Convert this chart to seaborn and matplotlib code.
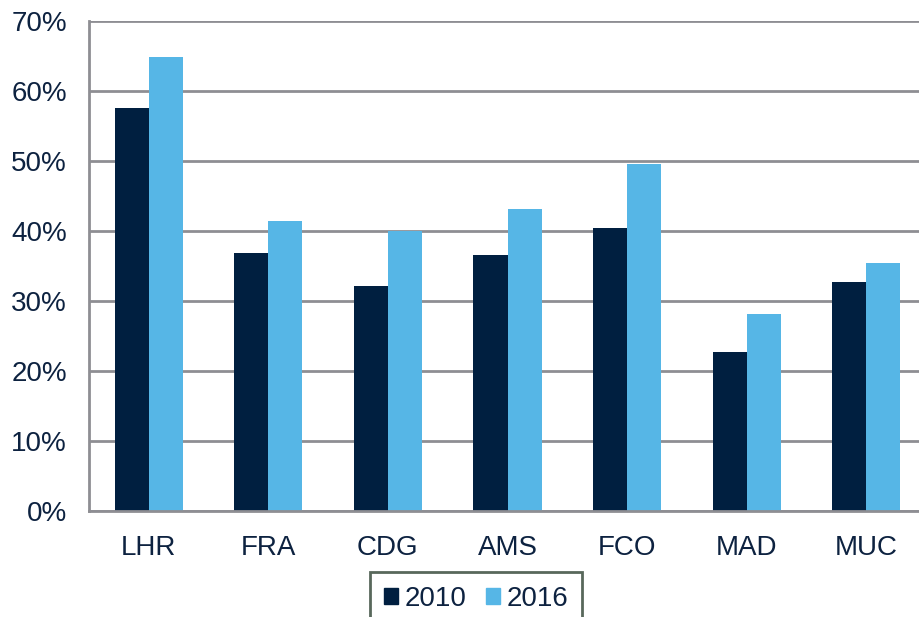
import matplotlib
matplotlib.use("Agg")
import matplotlib.pyplot as plt
import numpy as np
import pandas as pd
import seaborn as sns
from matplotlib.ticker import FuncFormatter, FixedLocator

airports = ["LHR", "FRA", "CDG", "AMS", "FCO", "MAD", "MUC"]
share_2010 = [57.6, 36.8, 32.1, 36.6, 40.5, 22.7, 32.7]
share_2016 = [64.8, 41.5, 40.0, 43.1, 49.6, 28.1, 35.5]
years = ["2010", "2016"]
colors = ["#001F40", "#56B6E6"]

df = pd.DataFrame({
    "airport": airports * 2,
    "share": share_2010 + share_2016,
    "year": [years[0]] * len(airports) + [years[1]] * len(airports),
})

sns.set_style("white")
plt.rcParams["font.family"] = ["Liberation Sans", "DejaVu Sans"]
text_col = "#0D2240"
grid_col = "#8E8E93"
fs = 20

fig = plt.figure(figsize=(9.2, 6.17), dpi=100)
ax = fig.add_axes([89 / 920, 1 - 511 / 617, 837 / 920, 490 / 617])

sns.barplot(data=df, x="airport", y="share", hue="year", palette=colors,
            width=0.57, saturation=1, ax=ax, legend=False, zorder=3, linewidth=0)

ax.set_ylim(0, 70)
ax.set_xlim(-0.5, len(airports) - 0.5)
ax.yaxis.set_major_locator(FixedLocator(np.arange(0, 71, 10)))
ax.yaxis.set_major_formatter(FuncFormatter(lambda v, _: f"{v:.0f}%"))
ax.grid(axis="y", color=grid_col, linewidth=2, zorder=0)
ax.set_axisbelow(True)
for side in ["top", "right"]:
    ax.spines[side].set_visible(False)
for side in ["left", "bottom"]:
    ax.spines[side].set_color(grid_col)
    ax.spines[side].set_linewidth(2)
    ax.spines[side].set_zorder(4)

# x ticks between categories, labels centred
ax.set_xticks(np.arange(-0.5, len(airports), 1))
ax.set_xticklabels([])
ax.set_xticks(np.arange(len(airports)), minor=True)
ax.set_xticklabels(airports, minor=True)
ax.tick_params(axis="x", which="major", length=8, width=2, color=grid_col, direction="out")
ax.tick_params(axis="x", which="minor", length=0, pad=17, labelsize=fs, labelcolor=text_col)
ax.tick_params(axis="y", length=8, width=2, color=grid_col, direction="out", pad=8,
               labelsize=fs, labelcolor=text_col)
ax.set_xlabel("")
ax.set_ylabel("")

handles = [plt.Rectangle((0, 0), 1, 1, color=c) for c in colors]
leg = fig.legend(handles, years, loc="upper center", bbox_to_anchor=(476 / 920, 1 - 572 / 617),
                 ncol=2, frameon=True, fancybox=False, fontsize=fs, handlelength=0.5,
                 handleheight=0.5, handletextpad=0.25, columnspacing=0.7,
                 borderpad=0.5, borderaxespad=0, labelcolor=text_col)
leg.get_frame().set_edgecolor("#2E4232")
leg.get_frame().set_linewidth(2)

fig.savefig("out.png", dpi=100)
